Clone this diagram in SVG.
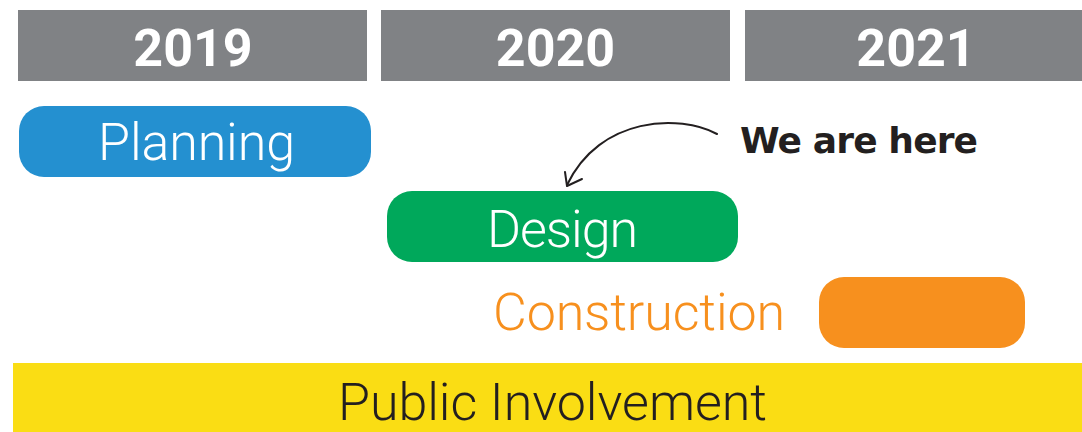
<svg xmlns="http://www.w3.org/2000/svg" width="1082" height="432" viewBox="0 0 1082 432">
  <style>
    .year-bar { fill: #808285; }
    .year { font-family: Roboto, "Liberation Sans", sans-serif; font-weight: bold; font-size: 52px; fill: #ffffff; text-anchor: middle; }
    .label { font-family: Roboto, "Liberation Sans", sans-serif; font-weight: 300; font-size: 52px; }
    .hand { font-family: "DejaVu Sans", sans-serif; font-weight: bold; font-size: 36px; fill: #231f20; }
    .conn { fill: none; stroke: #231f20; stroke-width: 2; stroke-linecap: round; stroke-linejoin: round; }
  </style>
  <rect width="1082" height="432" fill="#ffffff"/>
  <g id="year-2019">
    <rect class="year-bar" x="18" y="10" width="349" height="71"/>
    <text class="year" x="193" y="66">2019</text>
  </g>
  <g id="year-2020">
    <rect class="year-bar" x="381" y="10" width="349" height="71"/>
    <text class="year" x="555.5" y="66">2020</text>
  </g>
  <g id="year-2021">
    <rect class="year-bar" x="745" y="10" width="337" height="71"/>
    <text class="year" x="916" y="66">2021</text>
  </g>
  <g id="planning">
    <rect x="19" y="106" width="352" height="71" rx="25" fill="#2490d0"/>
    <text class="label" x="98" y="160" fill="#ffffff" textLength="197">Planning</text>
  </g>
  <g id="design">
    <rect x="387" y="191" width="351" height="71" rx="25" fill="#00a85b"/>
    <text class="label" x="487" y="247" fill="#ffffff" textLength="151">Design</text>
  </g>
  <g id="construction">
    <text class="label" x="493" y="330" fill="#f7901e" textLength="292">Construction</text>
    <rect x="819" y="277" width="206" height="71" rx="25" fill="#f7901e"/>
  </g>
  <g id="public-involvement">
    <rect x="13" y="363" width="1069" height="69" fill="#fadd14"/>
    <text class="label" x="338" y="420" fill="#231f20" textLength="429">Public Involvement</text>
  </g>
  <g id="we-are-here">
    <text class="hand" x="740" y="153" textLength="238">We are here</text>
  </g>
  <g id="connectors">
    <path class="conn" d="M717,134 C680,114 600,116 567,185"/>
    <path class="conn" d="M565,172 L567,186 L582,179"/>
  </g>
</svg>
